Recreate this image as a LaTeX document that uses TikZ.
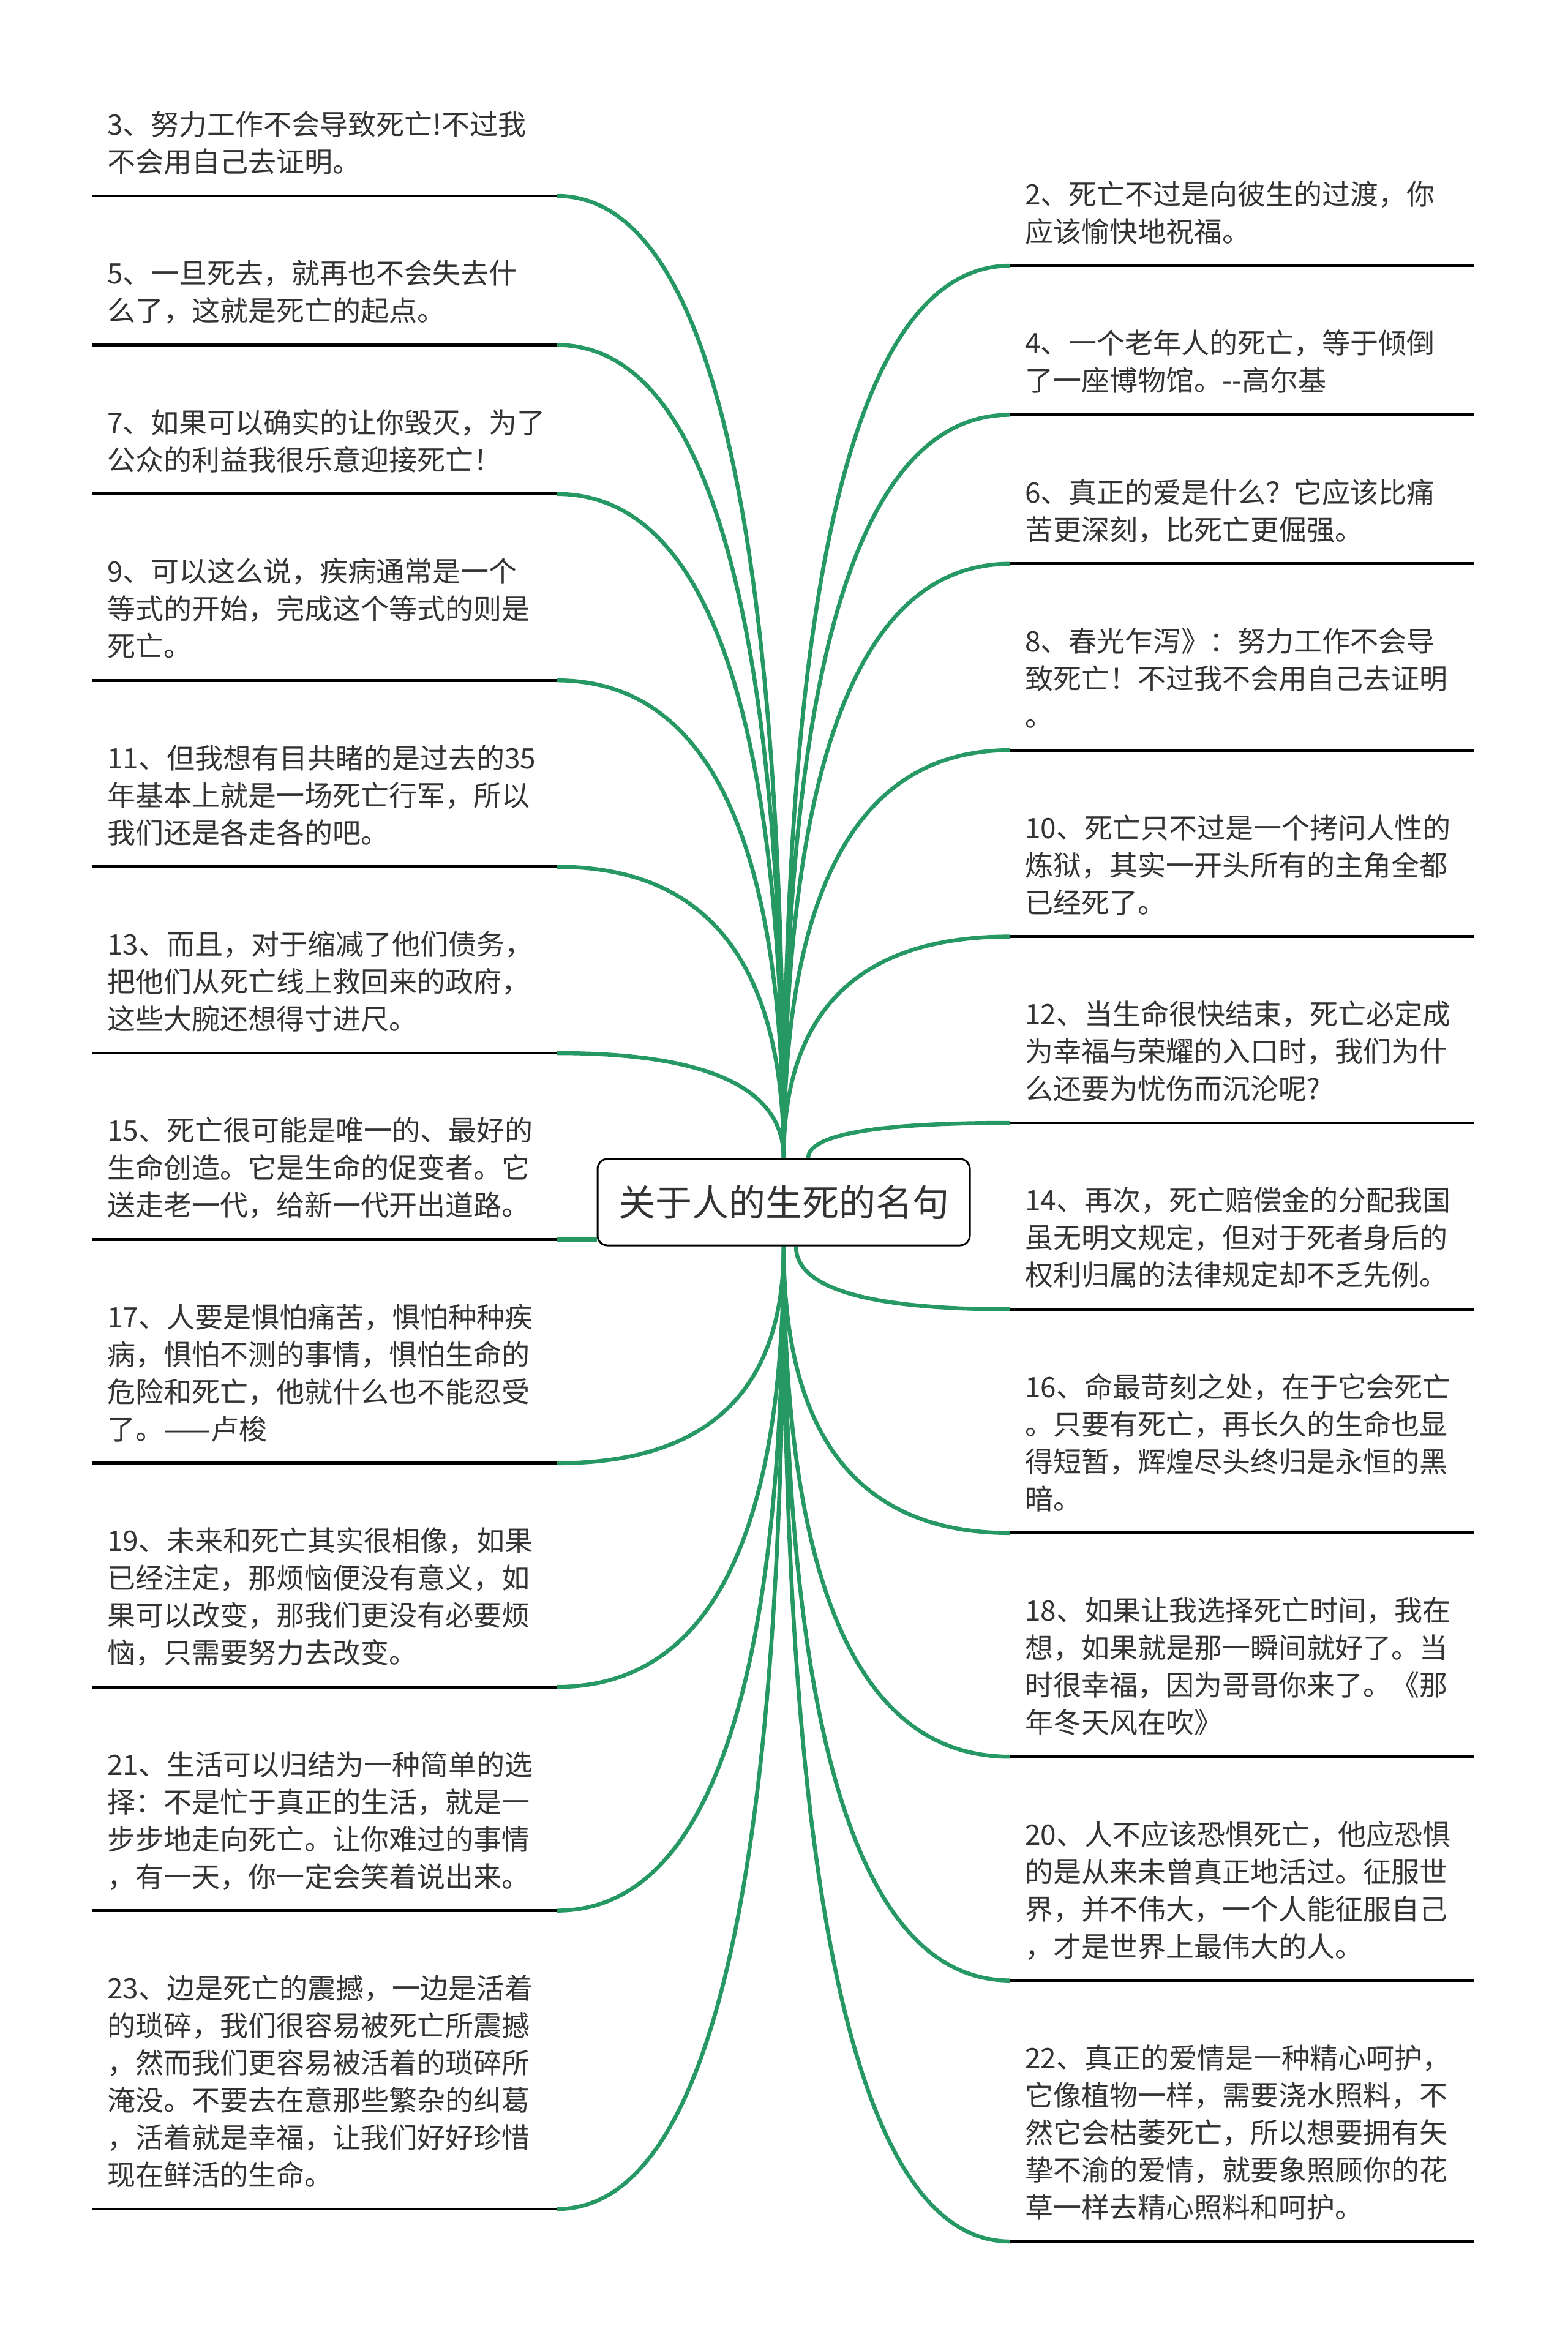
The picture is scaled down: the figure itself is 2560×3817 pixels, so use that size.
\documentclass[tikz,border=0pt]{standalone}
\usepackage{fontspec}
\usepackage{tikz}
\usetikzlibrary{positioning,calc,backgrounds}
\newfontfamily\cjkfont{Noto Sans CJK SC}
\definecolor{BranchGreen}{RGB}{38,152,100}
\definecolor{QuoteText}{RGB}{51,51,51}

\begin{document}
\begin{tikzpicture}[
    x=1pt, y=-1pt,
    quote/.style={anchor=south west, text width=710pt, inner xsep=24pt, inner ysep=20pt,
                  align=left, text=QuoteText, font=\cjkfont\fontsize{46}{61}\selectfont,
                  execute at begin node=\strut, execute at end node=\strut},
    root/.style={draw, line width=3pt, rounded corners=16pt, fill=white,
                 minimum width=608pt, minimum height=141pt, text=QuoteText,
                 font=\cjkfont\fontsize{60}{72}\selectfont},
    uline/.style={line width=4.7pt},
    branch/.style={draw=BranchGreen, line width=6.5pt,
                   to path={.. controls ($(\tikztostart)!2/3!(\tikztotarget |- \tikztostart)$)
                            and ($(\tikztotarget)!2/3!(\tikztotarget |- \tikztostart)$) .. (\tikztotarget)}},
    node distance=81pt
]
    \useasboundingbox (0,0) rectangle (2560,3817);

    \node[root] (root) at (1280,1963.5) {关于人的生死的名句};

    % left column
    \node[quote] (q3) at (151,320) {3、努力工作不会导致死亡!不过我\\不会用自己去证明。};
    \node[quote, below=of q3] (q5) {5、一旦死去，就再也不会失去什\\么了，这就是死亡的起点。};
    \node[quote, below=of q5] (q7) {7、如果可以确实的让你毁灭，为了\\公众的利益我很乐意迎接死亡！};
    \node[quote, below=of q7] (q9) {9、可以这么说，疾病通常是一个\\等式的开始，完成这个等式的则是\\死亡。};
    \node[quote, below=of q9] (q11) {11、但我想有目共睹的是过去的35\\年基本上就是一场死亡行军，所以\\我们还是各走各的吧。};
    \node[quote, below=of q11] (q13) {13、而且，对于缩减了他们债务，\\把他们从死亡线上救回来的政府，\\这些大腕还想得寸进尺。};
    \node[quote, below=of q13] (q15) {15、死亡很可能是唯一的、最好的\\生命创造。它是生命的促变者。它\\送走老一代，给新一代开出道路。};
    \node[quote, below=of q15] (q17) {17、人要是惧怕痛苦，惧怕种种疾\\病，惧怕不测的事情，惧怕生命的\\危险和死亡，他就什么也不能忍受\\了。——卢梭};
    \node[quote, below=of q17] (q19) {19、未来和死亡其实很相像，如果\\已经注定，那烦恼便没有意义，如\\果可以改变，那我们更没有必要烦\\恼，只需要努力去改变。};
    \node[quote, below=of q19] (q21) {21、生活可以归结为一种简单的选\\择：不是忙于真正的生活，就是一\\步步地走向死亡。让你难过的事情\\，有一天，你一定会笑着说出来。};
    \node[quote, below=of q21] (q23) {23、边是死亡的震撼，一边是活着\\的琐碎，我们很容易被死亡所震撼\\，然而我们更容易被活着的琐碎所\\淹没。不要去在意那些繁杂的纠葛\\，活着就是幸福，让我们好好珍惜\\现在鲜活的生命。};

    % right column
    \node[quote] (q2) at (1650,434) {2、死亡不过是向彼生的过渡，你\\应该愉快地祝福。};
    \node[quote, below=of q2] (q4) {4、一个老年人的死亡，等于倾倒\\了一座博物馆。--高尔基};
    \node[quote, below=of q4] (q6) {6、真正的爱是什么？它应该比痛\\苦更深刻，比死亡更倔强。};
    \node[quote, below=of q6] (q8) {8、春光乍泻》：努力工作不会导\\致死亡！不过我不会用自己去证明\\。};
    \node[quote, below=of q8] (q10) {10、死亡只不过是一个拷问人性的\\炼狱，其实一开头所有的主角全都\\已经死了。};
    \node[quote, below=of q10] (q12) {12、当生命很快结束，死亡必定成\\为幸福与荣耀的入口时，我们为什\\么还要为忧伤而沉沦呢?};
    \node[quote, below=of q12] (q14) {14、再次，死亡赔偿金的分配我国\\虽无明文规定，但对于死者身后的\\权利归属的法律规定却不乏先例。};
    \node[quote, below=of q14] (q16) {16、命最苛刻之处，在于它会死亡\\。只要有死亡，再长久的生命也显\\得短暂，辉煌尽头终归是永恒的黑\\暗。};
    \node[quote, below=of q16] (q18) {18、如果让我选择死亡时间，我在\\想，如果就是那一瞬间就好了。当\\时很幸福，因为哥哥你来了。《那\\年冬天风在吹》};
    \node[quote, below=of q18] (q20) {20、人不应该恐惧死亡，他应恐惧\\的是从来未曾真正地活过。征服世\\界，并不伟大，一个人能征服自己\\，才是世界上最伟大的人。};
    \node[quote, below=of q20] (q22) {22、真正的爱情是一种精心呵护，\\它像植物一样，需要浇水照料，不\\然它会枯萎死亡，所以想要拥有矢\\挚不渝的爱情，就要象照顾你的花\\草一样去精心照料和呵护。};

    \foreach \q in {q3,q5,q7,q9,q11,q13,q15,q17,q19,q21,q23,q2,q4,q6,q8,q10,q12,q14,q16,q18,q20,q22}
        \draw[uline] (\q.south west) -- (\q.south east);

    \begin{scope}[on background layer]
        \foreach \q in {q3,q5,q7,q9,q11,q13}
            \draw[branch] (\q.south east) to (root.north);
        \foreach \q in {q2,q4,q6,q8,q10}
            \draw[branch] (\q.south west) to (root.north);
        \draw[branch] (q12.south west) to ([xshift=40pt]root.north);
        \foreach \q in {q17,q19,q21,q23}
            \draw[branch] (\q.south east) to (root.south);
        \draw[branch] (q14.south west) to ([xshift=20pt]root.south);
        \foreach \q in {q16,q18,q20,q22}
            \draw[branch] (\q.south west) to (root.south);
        \draw[branch] (q15.south east) -- (q15.south east -| root.west);
    \end{scope}
\end{tikzpicture}
\end{document}
